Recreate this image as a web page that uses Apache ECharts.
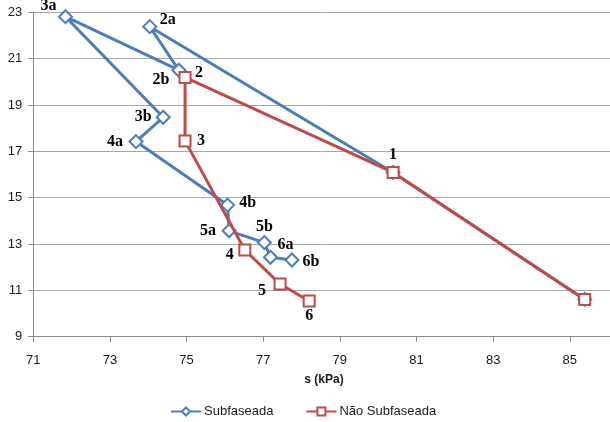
<!DOCTYPE html>
<html>
<head>
<meta charset="utf-8">
<script src="https://cdn.jsdelivr.net/npm/echarts@6/dist/echarts.min.js"></script>
<style>html,body{margin:0;padding:0;background:#fff;}#c{width:610px;height:422px;}</style>
</head>
<body>
<div id="c"></div>
<script>
// ---- data ----
const seriesNames = ['Subfaseada', 'Não Subfaseada'];
const subX = [85.39, 80.39, 74.04, 74.80, 71.84, 74.39, 73.68, 76.07, 76.11, 77.03, 77.19, 77.75];
const subY = [10.61, 16.09, 22.38, 20.50, 22.81, 18.47, 17.42, 14.68, 13.57, 13.06, 12.43, 12.31];
const subLabels = ['', '', '2a', '2b', '3a', '3b', '4a', '4b', '5a', '5b', '6a', '6b'];
const naoX = [85.39, 80.39, 74.96, 74.96, 76.52, 77.44, 78.20];
const naoY = [10.61, 16.09, 20.19, 17.45, 12.74, 11.27, 10.54];
const naoLabels = ['', '1', '2', '3', '4', '5', '6'];
const xTicks = { min: 71, max: 86.05, step: 2 };
const yTicks = { min: 9, max: 23, step: 2 };
const xTitle = 's (kPa)';

// ---- layout (label offsets in px, not data) ----
const labelOffsets = {
  '1': [0, -18], '2': [14, -5], '3': [16, 0], '4': [-15, 5], '5': [-18, 7], '6': [0, 15],
  '2a': [18, -7], '2b': [-18, 10], '3a': [-17, -11], '3b': [-20, 0], '4a': [-21, 0],
  '4b': [20, -2], '5a': [-21, 0], '5b': [0, -16], '6a': [15, -12], '6b': [19, 2]
};

function build(xs, ys, labels) {
  return xs.map((x, i) => {
    const lab = labels[i];
    const item = { value: [x, ys[i]] };
    if (lab) {
      item.label = { show: true, formatter: lab, position: 'inside', offset: labelOffsets[lab] || [0, 0] };
    }
    return item;
  });
}

const blue = '#4A7EBB', red = '#BE4B48';
const labelStyle = { color: '#000', fontFamily: 'Liberation Serif', fontWeight: 'bold', fontSize: 16 };

const chart = echarts.init(document.getElementById('c'), null, { renderer: 'canvas' });
chart.setOption({
  animation: false,
  backgroundColor: '#fff',
  grid: { left: 33.3, right: 0, top: 12.3, bottom: 85.3, containLabel: false },
  xAxis: {
    type: 'value', min: xTicks.min, max: xTicks.max, interval: xTicks.step,
    axisLine: { show: true, lineStyle: { color: '#8c8c8c', width: 1 } },
    axisTick: { show: true, length: 5, lineStyle: { color: '#8c8c8c' } },
    axisLabel: { color: '#1a1a1a', fontFamily: 'Liberation Sans', fontSize: 13, margin: 17, showMaxLabel: false },
    splitLine: { show: false }
  },
  yAxis: {
    type: 'value', min: yTicks.min, max: yTicks.max, interval: yTicks.step,
    axisLine: { show: true, lineStyle: { color: '#8c8c8c', width: 1 } },
    axisTick: { show: true, length: 5, lineStyle: { color: '#8c8c8c' } },
    axisLabel: { color: '#1a1a1a', fontFamily: 'Liberation Sans', fontSize: 13, margin: 11 },
    splitLine: { show: true, lineStyle: { color: '#a6a6a6', width: 1 } }
  },
  legend: {
    left: 165, top: 400, itemWidth: 30, itemHeight: 10, itemGap: 32,
    textStyle: { color: '#1a1a1a', fontFamily: 'Liberation Sans', fontSize: 13, padding: [0, 0, 0, -2] },
    data: seriesNames
  },
  graphic: [{
    type: 'text', x: 324, y: 380,
    style: { text: xTitle, fill: '#1a1a1a', font: 'bold 12px "Liberation Sans"', textAlign: 'center', textVerticalAlign: 'middle' }
  }],
  series: [
    {
      name: seriesNames[0], type: 'line', data: build(subX, subY, subLabels),
      symbol: 'emptyDiamond', symbolSize: 13, showAllSymbol: true,
      lineStyle: { color: blue, width: 3 },
      itemStyle: { color: blue, borderWidth: 2 },
      label: labelStyle, z: 2
    },
    {
      name: seriesNames[1], type: 'line', data: build(naoX, naoY, naoLabels),
      symbol: 'emptyRect', symbolSize: 11, showAllSymbol: true,
      lineStyle: { color: red, width: 3 },
      itemStyle: { color: red, borderWidth: 2 },
      label: labelStyle, z: 3
    }
  ]
});
</script>
</body>
</html>
